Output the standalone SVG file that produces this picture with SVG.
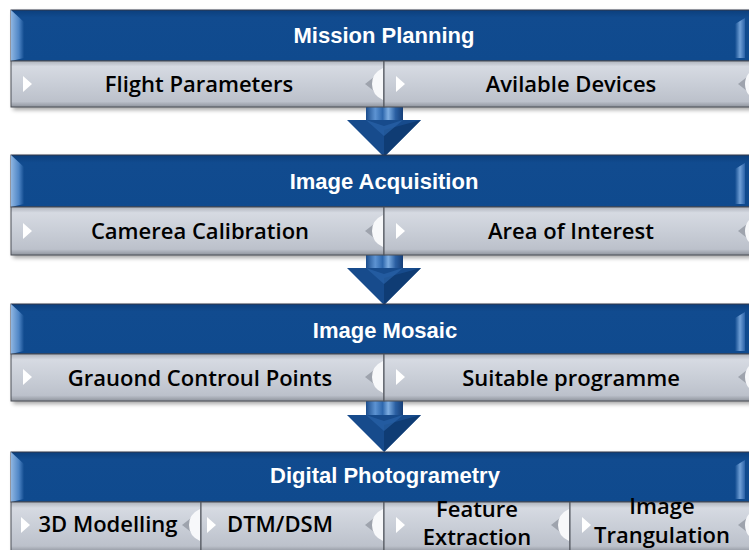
<svg xmlns="http://www.w3.org/2000/svg" width="749" height="550" viewBox="0 0 749 550">
<defs>
<linearGradient id="blueG" x1="0" y1="0" x2="0" y2="1">
<stop offset="0" stop-color="#0c3f7c"/>
<stop offset="0.15" stop-color="#114b8f"/>
<stop offset="1" stop-color="#0f4a8e"/>
</linearGradient>
<linearGradient id="grayG" x1="0" y1="0" x2="0" y2="1">
<stop offset="0" stop-color="#aeb3bc"/>
<stop offset="0.12" stop-color="#d6dae2"/>
<stop offset="0.5" stop-color="#c9ced7"/>
<stop offset="0.88" stop-color="#bcc1cb"/>
<stop offset="1" stop-color="#8e939c"/>
</linearGradient>
<linearGradient id="leftBev" x1="0" y1="0" x2="1" y2="0">
<stop offset="0" stop-color="#8fb6e2"/>
<stop offset="0.6" stop-color="#4f86c6"/>
<stop offset="1" stop-color="#114b8f"/>
</linearGradient>
<linearGradient id="rightBev" x1="0" y1="0" x2="1" y2="0">
<stop offset="0" stop-color="#114b8f"/>
<stop offset="0.5" stop-color="#6f9fd6"/>
<stop offset="1" stop-color="#2a62a8"/>
</linearGradient>
<linearGradient id="shaftG" x1="0" y1="0" x2="1" y2="0">
<stop offset="0" stop-color="#1a4c8c"/>
<stop offset="0.25" stop-color="#5d93d2"/>
<stop offset="0.45" stop-color="#2d67ad"/>
<stop offset="0.6" stop-color="#7eaee2"/>
<stop offset="0.8" stop-color="#2a5fa2"/>
<stop offset="1" stop-color="#163f78"/>
</linearGradient>
<filter id="sh" x="-5%" y="-20%" width="110%" height="150%">
<feGaussianBlur stdDeviation="2"/>
</filter>
<g id="tri"><polygon points="0,-8 9,0 0,8" fill="#ffffff"/></g>
<g id="rbev"><polygon points="-10,-7 -10,7 -19,0" fill="#9ea3ad"/><path d="M -1,-16 L -1,16 Q -12,11 -12,0 Q -12,-11 -1,-16 Z" fill="#f7f8fa"/></g>
</defs>
<style>
.hdr{fill:url(#blueG);stroke:#33394a;stroke-width:1}
.cell{fill:url(#grayG);stroke:#4b4f57;stroke-width:1}
.shadow{fill:#000;opacity:0.35;filter:url(#sh)}
.ht{font-family:"Liberation Sans",Arial,sans-serif;font-weight:bold;font-size:22px;fill:#ffffff;text-anchor:middle}
.ct{font-family:"Open Sans","Liberation Sans",Arial,sans-serif;font-weight:600;font-size:22px;fill:#000000;text-anchor:middle}
.lb{fill:url(#leftBev)}
.rb{fill:url(#rightBev)}
.head{fill:#174b8c}
.headr{fill:#0f3c74}
</style>
<rect width="749" height="550" fill="#ffffff"/>

<!-- shadows -->
<rect class="shadow" x="13" y="12" width="745" height="98"/>
<rect class="shadow" x="13" y="157" width="745" height="101"/>
<rect class="shadow" x="13" y="306" width="745" height="98"/>
<rect class="shadow" x="13" y="454" width="745" height="100"/>

<g id="connectors">
<g id="arrow1">
<rect x="366" y="100" width="37" height="24" fill="url(#shaftG)"/>
<polygon class="head" points="347,120 421,120 384,157"/>
<polygon class="headr" points="384,130 421,120 384,157"/>
<polygon points="366,120 384,136 403,120 384,126" fill="#2a62a8" opacity="0.7"/>
</g>
<g id="arrow2">
<rect x="366" y="248" width="37" height="24" fill="url(#shaftG)"/>
<polygon class="head" points="347,268 421,268 384,305"/>
<polygon class="headr" points="384,278 421,268 384,305"/>
<polygon points="366,268 384,284 403,268 384,274" fill="#2a62a8" opacity="0.7"/>
</g>
<g id="arrow3">
<rect x="366" y="395" width="37" height="24" fill="url(#shaftG)"/>
<polygon class="head" points="347,415 421,415 384,452"/>
<polygon class="headr" points="384,425 421,415 384,452"/>
<polygon points="366,415 384,431 403,415 384,421" fill="#2a62a8" opacity="0.7"/>
</g>
</g>

<!-- Box 1 -->
<g id="mission-planning">
<rect class="hdr" x="11" y="10" width="746" height="51"/>
<polygon class="lb" points="11,10 24,22 24,58 11,61"/>
<polygon class="rb" points="735,24 745,18 745,58 735,58"/>
<text class="ht" x="384" y="43">Mission Planning</text>
</g>
<g id="flight-parameters">
<rect class="cell" x="11" y="61" width="373" height="46"/>
<use href="#tri" x="23" y="84"/>
<use href="#rbev" x="384" y="84"/>
<text class="ct" x="199" y="92">Flight Parameters</text>
</g>
<g id="avilable-devices">
<rect class="cell" x="384" y="61" width="373" height="46"/>
<use href="#tri" x="396" y="84"/>
<use href="#rbev" x="757" y="84"/>
<text class="ct" x="571" y="92">Avilable Devices</text>
</g>

<!-- Box 2 -->
<g id="image-acquisition">
<rect class="hdr" x="11" y="155" width="746" height="52"/>
<polygon class="lb" points="11,155 24,167 24,204 11,207"/>
<polygon class="rb" points="735,169 745,163 745,204 735,204"/>
<text class="ht" x="384" y="189">Image Acquisition</text>
</g>
<g id="camerea-calibration">
<rect class="cell" x="11" y="207" width="373" height="48"/>
<use href="#tri" x="23" y="231"/>
<use href="#rbev" x="384" y="231"/>
<text class="ct" x="200" y="239">Camerea Calibration</text>
</g>
<g id="area-of-interest">
<rect class="cell" x="384" y="207" width="373" height="48"/>
<use href="#tri" x="396" y="231"/>
<use href="#rbev" x="757" y="231"/>
<text class="ct" x="571" y="239">Area of Interest</text>
</g>

<!-- Box 3 -->
<g id="image-mosaic">
<rect class="hdr" x="11" y="304" width="746" height="50"/>
<polygon class="lb" points="11,304 24,316 24,351 11,354"/>
<polygon class="rb" points="735,318 745,312 745,351 735,351"/>
<text class="ht" x="385" y="338">Image Mosaic</text>
</g>
<g id="grauond-controul-points">
<rect class="cell" x="11" y="354" width="373" height="47"/>
<use href="#tri" x="23" y="377"/>
<use href="#rbev" x="384" y="377"/>
<text class="ct" x="200" y="386">Grauond Controul Points</text>
</g>
<g id="suitable-programme">
<rect class="cell" x="384" y="354" width="373" height="47"/>
<use href="#tri" x="396" y="377"/>
<use href="#rbev" x="757" y="377"/>
<text class="ct" x="571" y="386">Suitable programme</text>
</g>

<!-- Box 4 -->
<g id="digital-photogrametry">
<rect class="hdr" x="11" y="452" width="746" height="50"/>
<polygon class="lb" points="11,452 24,464 24,499 11,502"/>
<polygon class="rb" points="735,466 745,460 745,499 735,499"/>
<text class="ht" x="385" y="483">Digital Photogrametry</text>
</g>
<g id="3d-modelling">
<rect class="cell" x="11" y="502" width="190" height="50"/>
<use href="#tri" x="21" y="525"/>
<use href="#rbev" x="201" y="525"/>
<text class="ct" x="108" y="532">3D Modelling</text>
</g>
<g id="dtm-dsm">
<rect class="cell" x="201" y="502" width="183" height="50"/>
<use href="#tri" x="207" y="525"/>
<use href="#rbev" x="384" y="525"/>
<text class="ct" x="280" y="532">DTM/DSM</text>
</g>
<g id="feature-extraction">
<rect class="cell" x="384" y="502" width="186" height="50"/>
<use href="#tri" x="396" y="525"/>
<use href="#rbev" x="570" y="525"/>
<text class="ct" x="477" y="517">Feature</text>
<text class="ct" x="477" y="545">Extraction</text>
</g>
<g id="image-trangulation">
<rect class="cell" x="570" y="502" width="187" height="50"/>
<use href="#tri" x="582" y="525"/>
<use href="#rbev" x="757" y="525"/>
<text class="ct" x="662" y="514">Image</text>
<text class="ct" x="662" y="543">Trangulation</text>
</g>
</svg>
